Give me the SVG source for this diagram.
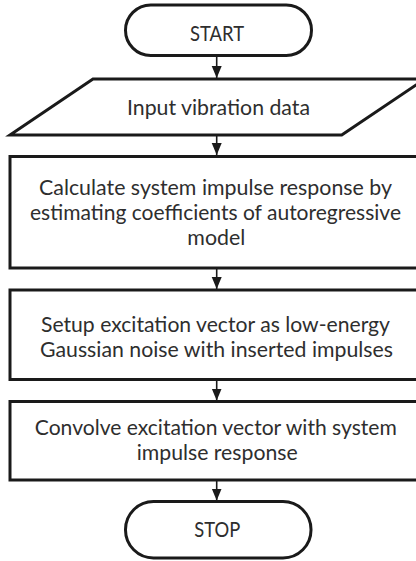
<svg xmlns="http://www.w3.org/2000/svg" width="416" height="561" viewBox="0 0 416 561">
<defs>
<marker id="ah" markerUnits="userSpaceOnUse" markerWidth="12" markerHeight="12" viewBox="0 0 12 12" refX="12" refY="6" orient="auto">
<path d="M0,1 L12,6 L0,11 Z" fill="#1a1a1a"/>
</marker>
</defs>
<style>
.shape{fill:#fff;stroke:#1a1a1a;stroke-width:3}
.lbl{font-family:"Lato","Open Sans",sans-serif;font-size:21px;fill:#2e2e2e;text-anchor:middle}
.conn{stroke:#1a1a1a;stroke-width:1.6;fill:none;marker-end:url(#ah)}
</style>
<rect width="416" height="561" fill="#fff"/>
<g id="connectors">
<line class="conn" x1="216.7" y1="56" x2="216.7" y2="78"/>
<line class="conn" x1="216.7" y1="136" x2="216.7" y2="155"/>
<line class="conn" x1="216.7" y1="269" x2="216.7" y2="289"/>
<line class="conn" x1="216.7" y1="380" x2="216.7" y2="400.5"/>
<line class="conn" x1="216.7" y1="481" x2="216.7" y2="500.5"/>
</g>
<g id="start">
<rect class="shape" x="125.5" y="5" width="186" height="50.5" rx="25.25" ry="25.25"/>
<text class="lbl" x="217" y="40.5" textLength="54" lengthAdjust="spacingAndGlyphs">START</text>
</g>
<g id="input">
<polygon class="shape" points="93,79 425,79 341.7,135 10,135"/>
<text class="lbl" x="218.5" y="114.5" textLength="183" lengthAdjust="spacingAndGlyphs">Input vibration data</text>
</g>
<g id="calc">
<rect class="shape" x="10" y="156.5" width="414" height="111.5"/>
<text class="lbl" x="215.5" y="195" textLength="353" lengthAdjust="spacingAndGlyphs">Calculate system impulse response by</text>
<text class="lbl" x="215.5" y="220" textLength="371" lengthAdjust="spacingAndGlyphs">estimating coefficients of autoregressive</text>
<text class="lbl" x="216.3" y="245" textLength="58" lengthAdjust="spacingAndGlyphs">model</text>
</g>
<g id="setup">
<rect class="shape" x="10" y="290" width="414" height="89.5"/>
<text class="lbl" x="215.5" y="332" textLength="349" lengthAdjust="spacingAndGlyphs">Setup excitation vector as low-energy</text>
<text class="lbl" x="216.5" y="357" textLength="353" lengthAdjust="spacingAndGlyphs">Gaussian noise with inserted impulses</text>
</g>
<g id="convolve">
<rect class="shape" x="10" y="401.5" width="414" height="78.5"/>
<text class="lbl" x="215.8" y="435" textLength="362" lengthAdjust="spacingAndGlyphs">Convolve excitation vector with system</text>
<text class="lbl" x="217.2" y="460" textLength="161" lengthAdjust="spacingAndGlyphs">impulse response</text>
</g>
<g id="stop">
<rect class="shape" x="125.5" y="501.5" width="185.5" height="56.5" rx="28" ry="28"/>
<text class="lbl" x="217.2" y="537" textLength="46" lengthAdjust="spacingAndGlyphs">STOP</text>
</g>
</svg>
